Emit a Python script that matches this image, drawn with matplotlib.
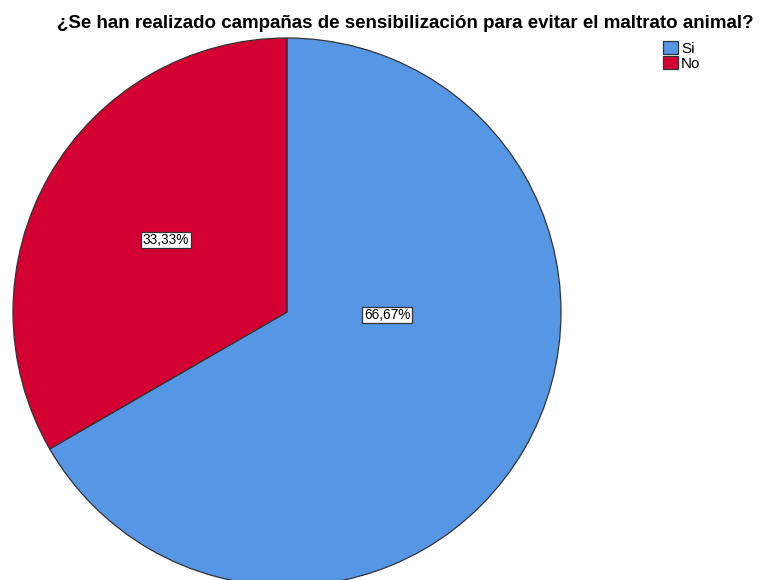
import matplotlib
matplotlib.use('Agg')
import matplotlib.pyplot as plt
from matplotlib.patches import Patch

plt.rcParams['font.family'] = ['Liberation Sans', 'DejaVu Sans']

title = '¿Se han realizado campañas de sensibilización para evitar el maltrato animal?'
categories = ['Si', 'No']
values = [66.67, 33.33]
colors = ['#5596E5', '#D50032']

fig = plt.figure(figsize=(7.61, 5.80), dpi=100)
ax = fig.add_axes([0, 0, 1, 1])

wedges, texts = ax.pie(values, colors=colors, startangle=90, counterclock=False,
                       center=(287, 268), radius=274, frame=True,
                       wedgeprops=dict(edgecolor='#333333', linewidth=0.9))

# label positions as SPSS puts them (relative to the pie centre)
label_pos = [(100, -3), (-121, 72)]
for v, (dx, dy) in zip(values, label_pos):
    ax.text(287 + dx, 268 + dy, ('%.2f%%' % v).replace('.', ','),
            ha='center', va='center', fontsize=9.8,
            bbox=dict(boxstyle='square,pad=0.1', facecolor='white',
                      edgecolor='#333333', linewidth=0.9))

ax.set_xlim(0, 761)
ax.set_ylim(0, 580)
ax.set_aspect('equal')
ax.axis('off')

fig.text(405 / 761, 1 - 24 / 580, title, ha='center', va='center',
         fontsize=13.5, fontweight='bold')

handles = [Patch(facecolor=c, edgecolor='#333333', linewidth=0.9) for c in colors]
fig.legend(handles, categories, loc='upper left', bbox_to_anchor=(652 / 761, 1 - 30 / 580),
           frameon=False, fontsize=11, handlelength=1.0, handleheight=1.0,
           handletextpad=0.2, labelspacing=0.0, borderpad=0.2)

fig.savefig('out.png', dpi=100)
